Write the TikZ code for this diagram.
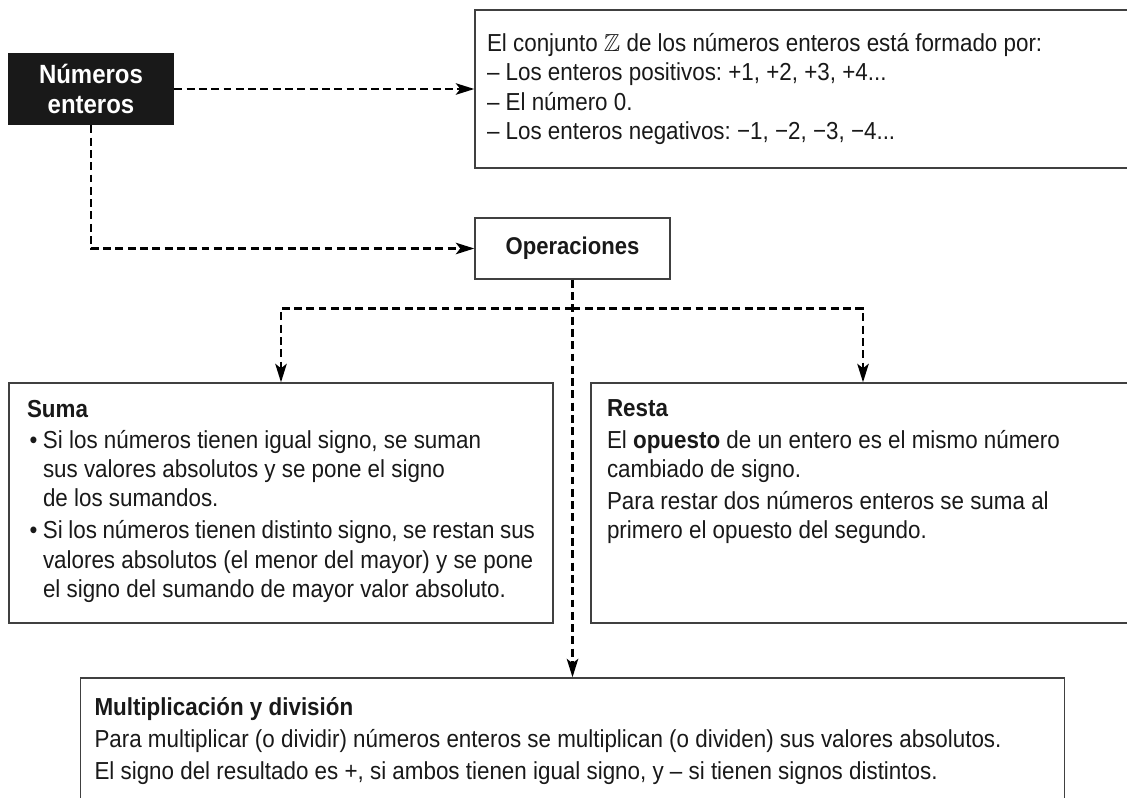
\documentclass[tikz,border=0pt]{standalone}
\usepackage{amssymb}
\usepackage{fontspec}
\setmainfont{Liberation Sans}[FakeStretch=0.91]
\usetikzlibrary{positioning, arrows.meta}
\frenchspacing

\tikzset{
  box/.style={draw=black!75, line width=0.8pt, rectangle, text=black!90,
    font=\fontsize{14}{16.7}\selectfont},
  flow/.style={-{Stealth[length=10.5pt,width=6.5pt,inset=2.5pt]}, dash pattern=on 4.5pt off 2.5pt,
    line width=1.4pt},
}

\begin{document}
\begin{tikzpicture}[node distance=2cm,on grid]

   \useasboundingbox (0,0) rectangle (22.54,-15.96);

   \node[fill=black!90, text=white, align=center, inner sep=0pt,
         minimum width=3.32cm, minimum height=1.44cm,
         font=\bfseries\fontsize{15}{17}\selectfont] (num) at (1.82,-1.78) {Números\\enteros};
   \node[box, minimum width=13.2cm, minimum height=3.16cm, inner xsep=0.24cm] (conj) [right=14.28cm of num]
         {\parbox{12.72cm}{\raggedright
          El conjunto $\mathbb{Z}$ de los números enteros está formado por:\newline
          – Los enteros positivos: +1, +2, +3, +4...\newline
          – El número 0.\newline
          – Los enteros negativos: −1, −2, −3, −4...}};
   \node[box, minimum width=3.9cm, minimum height=1.22cm, inner sep=0pt,
         font=\bfseries\fontsize{13.8}{16}\selectfont] (ops) [below right=3.19cm and 9.63cm of num] {Operaciones};

   \node[box, inner xsep=0.36cm, inner ysep=0.34cm] (suma) [below left=5.09cm and 5.83cm of ops]
         {\parbox[c][4.12cm][t]{10.16cm}{\raggedright
          \textbf{Suma}\par\vspace{1pt}
          \hangindent=0.32cm\hangafter=1\makebox[0.32cm][l]{\hspace{1.5pt}•}Si los números tienen igual signo, se suman\newline
          sus valores absolutos y se pone el signo\newline
          de los sumandos.\par\vspace{1.5pt}
          \hangindent=0.32cm\hangafter=1\makebox[0.32cm][l]{\hspace{1.5pt}•}Si los números tienen distinto signo, se restan sus\newline
          valores absolutos (el menor del mayor) y se pone\newline
          el signo del sumando de mayor valor absoluto.}};
   \node[box, inner xsep=0.32cm, inner ysep=0.34cm] (resta) [below right=5.09cm and 5.81cm of ops]
         {\parbox[c][4.12cm][t]{10.24cm}{\raggedright
          \textbf{Resta}\par\vspace{1pt}
          El \textbf{opuesto} de un entero es el mismo número\newline
          cambiado de signo.\par\vspace{1.5pt}
          Para restar dos números enteros se suma al\newline
          primero el opuesto del segundo.}};
   \node[box, inner xsep=0.28cm, inner ysep=0.38cm] (mult) [below=10.11cm of ops]
         {\parbox[c][2.28cm][t]{19.12cm}{\raggedright
          \textbf{Multiplicación y división}\par\vspace{1.5pt}
          Para multiplicar (o dividir) números enteros se multiplican (o dividen) sus valores absolutos.\par\vspace{1.5pt}
          El signo del resultado es +, si ambos tienen igual signo, y – si tienen signos distintos.}};

   \coordinate[below=0.58cm of ops.south] (split);

   \draw[flow] (num) -- (conj);
   \draw[flow] (num) |- (ops);
   \draw[flow] (ops) -- (mult);
   \draw[flow] (split) -| (suma);
   \draw[flow] (split) -| (resta);

\end{tikzpicture}
\end{document}
